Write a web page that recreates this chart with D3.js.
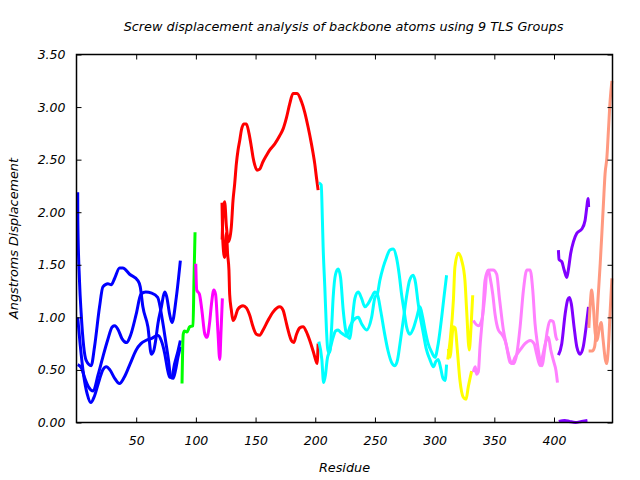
<!DOCTYPE html>
<html><head><meta charset="utf-8">
<script src="https://cdn.jsdelivr.net/npm/d3@7"></script>
<style>
body{margin:0;background:#fff;}
text{font-family:"DejaVu Sans",sans-serif;font-style:italic;fill:#000;}
</style></head>
<body><svg id="c" width="640" height="480"></svg>
<script>
// ---- data: [residue, displacement] ----
const blue1 = [[1,2.19],[1.1,1.92],[2.5,1.35],[3.9,1.04],[8.1,0.59],[12.3,0.54],[15.1,0.72],[19.3,1.10],[22.1,1.29],[26.3,1.32],[29.1,1.31],[31.9,1.37],[36.1,1.47],[38.8,1.47],[44.5,1.41],[51.4,1.35],[53.4,1.29],[55.6,1.10],[59.8,0.91],[62.7,0.65],[64.6,0.68],[66.3,0.78],[68.2,0.94],[71.1,1.10],[73.8,1.24],[75.5,1.20],[78,1.03],[80,0.95],[83.6,1.19],[87,1.54]];
const blue2 = [[1,1.00],[3,0.75],[6,0.45],[9,0.27],[12,0.19],[15,0.25],[19,0.40],[22,0.50],[25,0.53],[28,0.50],[32,0.42],[36,0.37],[40,0.43],[45,0.56],[50,0.69],[54,0.75],[58,0.78],[63,0.80],[68,0.83],[71,0.78],[74,0.65],[76,0.52],[78,0.43],[80,0.44],[82,0.55],[85,0.68],[87,0.78]];
const blue3 = [[1,0.55],[4,0.52],[7,0.42],[10,0.34],[14,0.30],[18,0.45],[22,0.62],[26,0.78],[30,0.91],[32,0.92],[35,0.88],[38,0.80],[42,0.76],[45,0.82],[50,1.03],[54,1.22],[58,1.24],[63,1.23],[68,1.19],[72,0.97],[75,0.75],[77,0.60],[79,0.43],[81,0.42],[83,0.50],[85,0.62],[87,0.72]];
const green1 = [[88.4,0.37],[89.4,0.84],[90.5,0.87],[92.5,0.86],[94.8,0.91],[97.6,0.92],[98.4,1.35],[99.3,1.81]];
const magenta1 = [[99.9,1.51],[100.7,1.26],[103,1.22],[105,1.07],[107.5,0.84],[109.3,0.81],[111.5,0.95],[113,1.12],[115,1.26],[116.5,1.22],[118.5,0.86],[120,0.60],[121,0.85],[122.2,1.18]];
const red1 = [[122,1.74],[123,2.05],[124.1,2.10],[125.6,1.86],[127.5,1.72],[129.7,1.86],[131.1,2.11],[132.5,2.27],[133.9,2.46],[135.3,2.59],[136.7,2.68],[138.1,2.78],[140.1,2.84],[142.3,2.84],[144.5,2.75],[146.5,2.62],[147.9,2.52],[149.3,2.45],[151.2,2.40],[153.5,2.41],[156.2,2.48],[159.1,2.54],[161.8,2.59],[166.1,2.65],[170.3,2.73],[173,2.79],[175.9,2.90],[178.6,3.03],[181.4,3.13],[184.8,3.13],[188.5,3.05],[191.2,2.95],[194,2.81],[196.8,2.65],[198.2,2.56],[199.6,2.46],[201,2.33],[202.4,2.21]];
const red2 = [[121.9,2.09],[122.6,1.72],[124.1,1.57],[125.6,1.80],[126.6,1.60],[127.7,1.45],[128.3,1.22],[129.7,1.07],[131.1,0.97],[132.5,0.99],[135.3,1.08],[139.5,1.11],[142.3,1.09],[145.1,1.02],[147.9,0.91],[150.7,0.84],[153.5,0.83],[156.3,0.88],[160.4,0.97],[164.6,1.05],[170.3,1.10],[173,1.07],[175.3,0.97],[177.2,0.88],[180,0.78],[182,0.76],[184.3,0.84],[187,0.90],[189.8,0.91],[192.7,0.86],[195.4,0.78],[198.2,0.68],[200.5,0.59],[201.5,0.56],[202.4,0.75]];
const cyan1 = [[203,2.28],[205,2.26],[206,1.92],[206.6,1.67],[208,1.29],[209.4,0.88],[210.8,0.67],[212.2,0.67],[213.6,0.88],[215,1.19],[217,1.41],[219.2,1.46],[221.2,1.38],[223.4,1.07],[226.2,0.84],[229,0.80],[230.4,0.91],[233.2,1.18],[236,1.24],[238.8,1.18],[241.6,1.10],[244.3,1.13],[247.2,1.19],[250,1.24],[252,1.22],[255,1.05],[258,0.85],[261,0.68],[264,0.57],[266.7,0.54],[269,0.60],[271,0.75],[273.7,0.97],[276.5,1.20],[279,1.35],[282,1.40],[284,1.33],[286,1.15],[288,1.00],[290.5,0.85],[293,0.70],[296,0.60],[299,0.53],[301,0.58],[303,0.60],[305,0.52],[307,0.42],[308.7,0.40],[310,0.55]];
const cyan2 = [[203,0.77],[205.5,0.60],[207,0.38],[208.5,0.45],[210,0.60],[212,0.68],[215,0.81],[217,0.87],[219.2,0.88],[221,0.86],[223.4,0.84],[226,0.82],[229,0.91],[231.8,0.97],[236,1.00],[238.8,0.94],[243,0.88],[247.2,1.00],[250,1.19],[252,1.22],[254.1,1.35],[257,1.48],[259.7,1.57],[262.5,1.64],[265.3,1.65],[268,1.57],[270.3,1.41],[272.3,1.22],[274.3,1.07],[276.5,0.91],[279.3,0.84],[282,0.89],[285,1.00],[287.7,1.10],[290,1.00],[292,0.88],[294.6,0.75],[297.5,0.67],[300.3,0.62],[303,0.75],[305.9,1.00],[307.8,1.19],[310,1.40]];
const yellow1 = [[311,0.60],[313,0.78],[315.7,1.16],[317,1.48],[319.8,1.61],[322.7,1.54],[325.4,1.35],[326.8,1.07],[329,0.69],[330.5,0.91],[331.9,1.21]];
const yellow2 = [[311.5,0.70],[312.8,0.62],[315.7,0.91],[317.2,0.90],[319,0.69],[321.2,0.40],[324,0.24],[326.3,0.22],[328.2,0.34],[331,0.49]];
const pink1 = [[332.4,0.97],[336.6,0.92],[339.4,0.97],[342.2,1.22],[343.6,1.41],[346.4,1.45],[349,1.45],[352,1.41],[354.2,1.19],[356.2,1.00],[357.6,0.88],[360.4,0.72],[363.2,0.57],[365.9,0.56],[368.8,0.65],[371.6,0.91],[374.4,1.26],[377.2,1.45],[380,1.45],[382.2,1.26],[384.1,0.94],[386.1,0.75],[388.3,0.59],[389.8,0.54],[392.5,0.72],[394.5,0.88],[396.7,0.97],[399.3,0.96],[401.7,0.81],[402.9,0.78]];
const pink2 = [[332.4,0.48],[334,0.53],[335.2,0.46],[336.6,0.48],[338,0.72],[340.3,1.03],[342.2,1.35],[345,1.45],[346.4,1.38],[348.7,1.22],[350.6,1.03],[353.4,0.88],[356.2,0.84],[359,0.78],[361.8,0.65],[364.6,0.56],[367.4,0.62],[371.6,0.69],[375.7,0.75],[380,0.78],[383.3,0.75],[385.5,0.65],[388.3,0.54],[390.8,0.65],[393.4,0.78],[395.3,0.81],[397.3,0.69],[399.5,0.59],[401.7,0.49],[402.9,0.38]];
const purple1 = [[403.7,1.64],[404.2,1.55],[406.5,1.53],[408.5,1.45],[410.7,1.38],[412,1.45],[414,1.61],[416.3,1.72],[419.1,1.80],[423.3,1.84],[426,1.92],[427.5,2.05],[428.5,2.13],[429,2.05]];
const purple2 = [[403.7,0.64],[406.5,0.75],[409.3,1.03],[411.5,1.17],[413,1.19],[414.5,1.13],[416.8,0.91],[419.1,0.72],[421.9,0.65],[424.5,0.72],[426.9,0.91],[428.9,1.10]];
const purple3 = [[404,0.01],[409,0.02],[413,0.01],[418,0.00],[423,0.01],[428,0.02]];
const salmon1 = [[429,0.68],[432,0.68],[434,0.72],[435.5,0.90],[437,1.20],[438.7,1.51],[440.1,1.80],[441.4,2.08],[442.8,2.37],[444.3,2.52],[445.6,2.78],[447,3.06],[448.5,3.25]];
const salmon2 = [[429.2,0.90],[430.5,1.15],[431.5,1.26],[433,1.10],[434.5,0.85],[436,0.78],[438,0.90],[439.5,0.95],[441,0.80],[443,0.60],[444,0.56],[445.5,0.70],[447,1.05],[448.5,1.37]];

const groups = [
  {color:"#0000ff", series:[blue1, blue2, blue3]},
  {color:"#00ff00", series:[green1]},
  {color:"#ff00ff", series:[magenta1]},
  {color:"#ff0000", series:[red1, red2]},
  {color:"#00ffff", series:[cyan1, cyan2]},
  {color:"#ffff00", series:[yellow1, yellow2]},
  {color:"#ff80ff", series:[pink1, pink2]},
  {color:"#8000ff", series:[purple1, purple2, purple3]},
  {color:"#ff9980", series:[salmon1, salmon2]}
];
const xTicks = [50,100,150,200,250,300,350,400];
const yTicks = [0,0.5,1,1.5,2,2.5,3,3.5];
const titleText = "Screw displacement analysis of backbone atoms using 9 TLS Groups";
const xLabel = "Residue";
const yLabel = "Angstroms Displacement";

// ---- drawing ----
const L=76.5, R=612.5, T=54.5, B=422.5;
const svg = d3.select("#c");
const x = d3.scaleLinear().domain([0,449]).range([L,R]);
const y = d3.scaleLinear().domain([0,3.5]).range([B,T]);

const line = d3.line().x(d=>x(d[0])).y(d=>y(d[1])).curve(d3.curveMonotoneX);
const plot = svg.append("g");
groups.forEach(g=>{
  g.series.forEach(s=>{
    plot.append("path").attr("d", line(s)).attr("fill","none")
      .attr("stroke", g.color).attr("stroke-width",3).attr("stroke-linejoin","round");
  });
});

// axes
const tick = 5;
const ax = svg.append("g");
ax.append("g").attr("transform",`translate(0,${B})`)
  .call(d3.axisBottom(x).tickValues(xTicks).tickSize(-tick).tickPadding(11).tickFormat(d3.format("d")))
  .call(g=>{g.select(".domain").remove(); g.selectAll("text").attr("font-size",12.5).attr("font-family","DejaVu Sans").attr("dy","0.95em");});
ax.append("g").attr("transform",`translate(0,${T})`)
  .call(d3.axisTop(x).tickValues(xTicks).tickSize(-tick).tickFormat(""))
  .call(g=>g.select(".domain").remove());
ax.append("g").attr("transform",`translate(${L},0)`)
  .call(d3.axisLeft(y).tickValues(yTicks).tickSize(-tick).tickPadding(11).tickFormat(d3.format(".2f")))
  .call(g=>{g.select(".domain").remove(); g.selectAll("text").attr("font-size",12.5).attr("font-family","DejaVu Sans");});
ax.append("g").attr("transform",`translate(${R},0)`)
  .call(d3.axisRight(y).tickValues(yTicks).tickSize(-tick).tickFormat(""))
  .call(g=>g.select(".domain").remove());
ax.selectAll(".tick line").attr("stroke","#000").attr("stroke-width",1);
svg.append("rect").attr("x",L).attr("y",T).attr("width",R-L).attr("height",B-T)
  .attr("fill","none").attr("stroke","#000").attr("stroke-width",1.5);

svg.append("text").attr("x",(L+R)/2-1).attr("y",31).attr("text-anchor","middle")
  .attr("font-size",12.8).text(titleText);
svg.append("text").attr("x",(L+R)/2).attr("y",472).attr("text-anchor","middle")
  .attr("font-size",12.8).text(xLabel);
svg.append("text").attr("transform",`translate(18,${(T+B)/2}) rotate(-90)`).attr("text-anchor","middle")
  .attr("font-size",12.8).text(yLabel);
</script></body></html>
